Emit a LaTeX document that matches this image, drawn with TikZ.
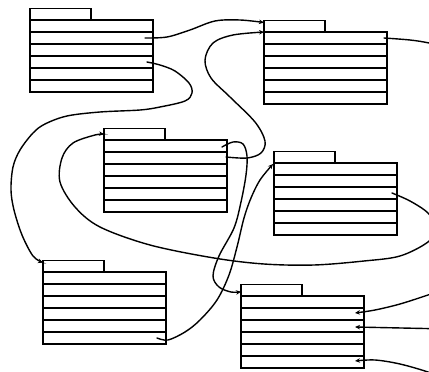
\documentclass[tikz,border=0pt]{standalone}
\usetikzlibrary{calc,arrows.meta}
\tikzset{
  fbox/.style={draw, line width=1.8pt, minimum width=123pt, minimum height=72pt, inner sep=0pt, outer sep=0pt},
  ftab/.style={draw, line width=1.7pt, minimum width=61pt, minimum height=11.5pt, inner sep=0pt, outer sep=0pt},
  rowline/.style={line width=1.8pt},
  conn/.style={line width=1.4pt, line cap=round},
  arr/.style={conn, -{Stealth[length=5pt,width=4.5pt]}},
  sm/.style={smooth, tension=0.55}
}
\newcommand\folderbox[3]{%
  \node[fbox, anchor=north west] (#1) at (#2,#3) {};
  \node[ftab, anchor=south west] (#1t) at (#1.north west) {};
  \foreach \k in {1,...,5}{
    \draw[rowline] ($(#1.north west)+(0,\k*12)$) -- ($(#1.north east)+(0,\k*12)$);
  }%
}
\begin{document}
\begin{tikzpicture}[x=1pt,y=-1pt]
\useasboundingbox (0,0) rectangle (429,372);
\clip (0,0) rectangle (429,372);
\folderbox{A}{30}{20}
\folderbox{B}{264}{32}
\folderbox{C}{104}{140}
\folderbox{D}{274}{163}
\folderbox{E}{43}{272}
\folderbox{F}{241}{296}
% connector end points
\coordinate (A2) at ($(A.north east)+(-8,18)$);
\coordinate (A4) at ($(A.north east)+(-6,42)$);
\coordinate (B1) at ($(B.north east)+(-3,6)$);
\coordinate (C1) at ($(C.north east)+(-5,7)$);
\coordinate (C2) at ($(C.north east)+(-1,17)$);
\coordinate (D3) at ($(D.north east)+(-5,30)$);
\coordinate (E6) at ($(E.north east)+(-9,66)$);
\coordinate (F2) at ($(F.north east)+(-9,17)$);
\coordinate (F3) at ($(F.north east)+(-9,31)$);
\coordinate (F6) at ($(F.north east)+(-9,65)$);
\coordinate (Bin1) at ($(Bt.north west)+(0,2)$);
\coordinate (Bin2) at (B.north west);
\coordinate (Cin) at (Ct.west);
\coordinate (Din) at ($(D.north west)+(-1,1)$);
\coordinate (Ein) at ($(Et.north west)+(0,2)$);
\coordinate (Fin) at ($(Ft.west)+(0,1.5)$);
\coordinate (offB) at (452,49);
\coordinate (offF2) at (448,288);
\coordinate (offF3) at (448,329);
\coordinate (offF6) at (448,380);
% connectors
\draw[arr] plot[sm] coordinates {(A2) (167,37) (190,30) (215,21) (240,20) (Bin1)};
\draw[arr] plot[sm] coordinates {(C2) (247,158) (261,153) (265,141) (255,122) (230,97) (211,78) (205,60) (213,43) (233,35) (Bin2)};
\draw[arr] plot[sm] coordinates {(C1) (233,142) (243,144) (247,156) (246,175) (241,202) (234,228) (219,256) (213,276) (219,287) (231,292) (Fin)};
\draw[arr] plot[sm] coordinates {(E6) (168,340) (185,332) (200,320) (217,300) (229,275) (237,247) (244,218) (251,198) (260,180) (Din)};
\draw[arr] plot[sm] coordinates {(D3) (410,201) (428,213) (437,228) (428,242) (400,256) (364,261) (314,265) (264,264) (214,258) (150,245) (100,227) (75,207) (60,182) (62,158) (73,143) (95,135) (Cin)};
\draw[arr] plot[sm] coordinates {(A4) (160,65) (175,71) (189,83) (192,93) (185,101) (160,107) (140,110) (100,112) (67,116) (45,124) (33,133) (20,150) (13,167) (11,190) (14,210) (22,235) (33,256) (Ein)};
\draw[conn] plot[sm] coordinates {(B1) (410,40) (429,43) (offB)};
\draw[arr] plot[sm] coordinates {(offF2) (428,295) (400,304) (375,310) (F2)};
\draw[arr] (offF3) -- (F3);
\draw[arr] plot[sm] coordinates {(offF6) (428,372) (400,364) (375,360) (F6)};
\end{tikzpicture}
\end{document}
